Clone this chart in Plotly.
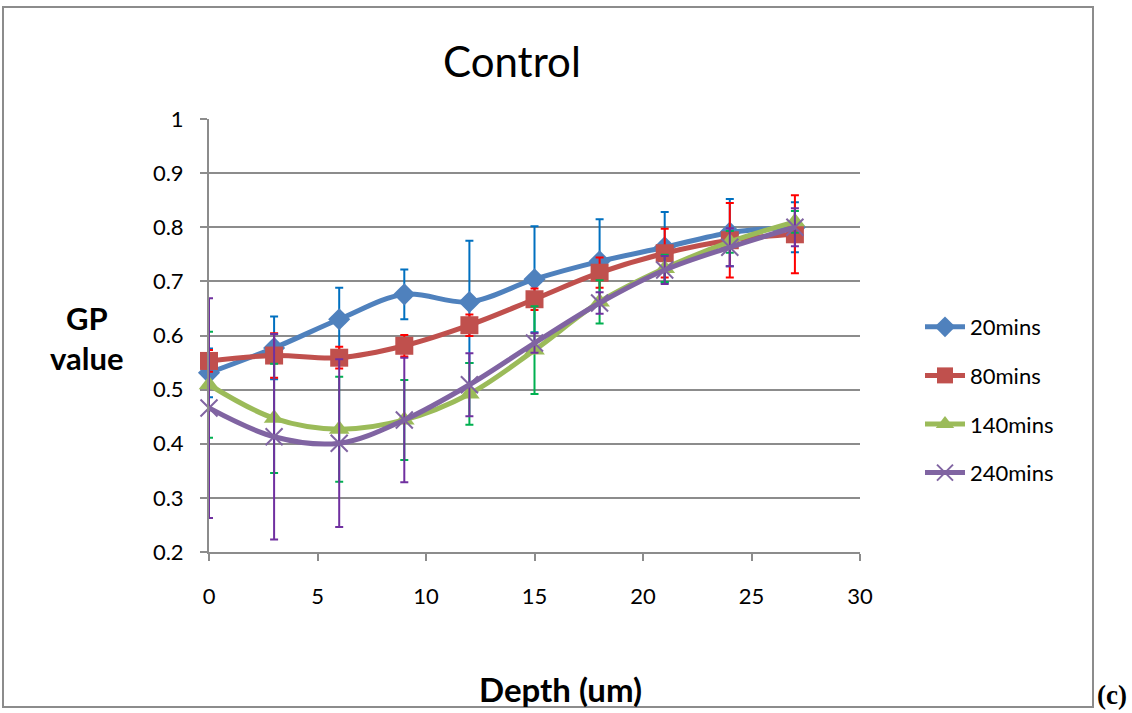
import plotly.graph_objects as go

# Depth positions (um)
depth = [0, 3, 6, 9, 12, 15, 18, 21, 24, 27]

# GP values and error magnitudes per incubation time
gp_20 = [0.531, 0.577, 0.630, 0.676, 0.662, 0.704, 0.737, 0.763, 0.790, 0.800]
err_20 = [0.045, 0.058, 0.058, 0.046, 0.113, 0.098, 0.078, 0.065, 0.062, 0.046]

gp_80 = [0.553, 0.563, 0.559, 0.581, 0.619, 0.667, 0.716, 0.752, 0.776, 0.787]
err_80 = [0.020, 0.041, 0.020, 0.020, 0.020, 0.020, 0.028, 0.045, 0.069, 0.072]

gp_140 = [0.509, 0.447, 0.427, 0.444, 0.492, 0.573, 0.662, 0.724, 0.773, 0.810]
err_140 = [0.098, 0.101, 0.097, 0.074, 0.057, 0.081, 0.040, 0.025, 0.020, 0.020]

gp_240 = [0.466, 0.413, 0.401, 0.444, 0.509, 0.586, 0.660, 0.721, 0.763, 0.800]
err_240 = [0.203, 0.190, 0.155, 0.115, 0.058, 0.018, 0.020, 0.026, 0.035, 0.035]

series_names = ["20mins", "80mins", "140mins", "240mins"]
x_ticks = [0, 5, 10, 15, 20, 25, 30]
y_ticks = [0.2, 0.3, 0.4, 0.5, 0.6, 0.7, 0.8, 0.9, 1]
y_tick_text = ["0.2", "0.3", "0.4", "0.5", "0.6", "0.7", "0.8", "0.9", "1"]

styles = [
    dict(line="#4F81BD", err="#0070C0", symbol="diamond", size=17),
    dict(line="#C0504D", err="#FF0000", symbol="square", size=18),
    dict(line="#9BBB59", err="#00B050", symbol="triangle-up", size=18),
    dict(line="#8064A2", err="#7030A0", symbol="x-thin", size=17),
]

fig = go.Figure()
for i, (name, ys, es, st) in enumerate(zip(series_names,
                                           [gp_20, gp_80, gp_140, gp_240],
                                           [err_20, err_80, err_140, err_240],
                                           styles)):
    marker = dict(symbol=st["symbol"], size=st["size"], color=st["line"])
    if st["symbol"] == "x-thin":
        marker["line"] = dict(color=st["line"], width=2)
    fig.add_trace(go.Scatter(
        x=depth, y=ys, name=name, mode="lines+markers",
        line=dict(color=st["line"], width=5, shape="spline", smoothing=1),
        marker=marker,
        error_y=dict(type="data", array=es, visible=True,
                     color=st["err"], thickness=2, width=4),
        legendgroup=f"g{i}",
        cliponaxis=False,
    ))

grid_col = "#8C8C8C"
font_family = "Lato, 'Open Sans', sans-serif"


def px_x(px):
    """Horizontal pixel position -> paper fraction of the plot area."""
    return (px - 209) / 651


def px_y(py):
    """Vertical pixel position -> paper fraction of the plot area."""
    return (552 - py) / 433


fig.update_layout(
    width=1132, height=713,
    margin=dict(l=209, r=272, t=119, b=161),
    paper_bgcolor="white", plot_bgcolor="white",
    font=dict(family=font_family, color="black"),
    showlegend=True,
    legend=dict(
        x=px_x(920), y=px_y(400), xanchor="left", yanchor="middle",
        font=dict(size=22, family=font_family),
        traceorder="grouped", tracegroupgap=17,
        itemwidth=40,
        bgcolor="rgba(0,0,0,0)",
    ),
    xaxis=dict(
        range=[0, 30], tickvals=x_ticks, ticktext=[str(v) for v in x_ticks],
        showgrid=False, zeroline=False,
        showline=True, linecolor=grid_col, linewidth=2,
        ticks="outside", ticklen=7, tickcolor=grid_col, tickwidth=2,
        tickfont=dict(size=22), ticklabelstandoff=17,
    ),
    yaxis=dict(
        range=[0.2, 1], tickvals=y_ticks, ticktext=y_tick_text,
        showgrid=True, gridcolor=grid_col, gridwidth=2, zeroline=False,
        showline=True, linecolor=grid_col, linewidth=2,
        ticks="outside", ticklen=7, tickcolor=grid_col, tickwidth=2,
        tickfont=dict(size=22), ticklabelstandoff=12,
    ),
)

# Outer frame of the chart
fig.add_shape(type="rect", xref="paper", yref="paper",
              x0=px_x(3), x1=px_x(1093), y0=px_y(707), y1=px_y(7),
              line=dict(color="#8C8C8C", width=2), layer="below")

fig.add_annotation(text="Control", xref="paper", yref="paper",
                   x=px_x(512), y=px_y(61),
                   showarrow=False, font=dict(size=42, family=font_family),
                   xanchor="center", yanchor="middle")
fig.add_annotation(text="<b>GP<br>value</b>", xref="paper", yref="paper",
                   x=px_x(86), y=px_y(338),
                   showarrow=False, font=dict(size=31, family=font_family),
                   xanchor="center", yanchor="middle", align="center")
fig.add_annotation(text="<b>Depth (um)</b>", xref="paper", yref="paper",
                   x=px_x(560), y=px_y(689),
                   showarrow=False, font=dict(size=33, family=font_family),
                   xanchor="center", yanchor="middle")
fig.add_annotation(text="<b>(c)</b>", xref="paper", yref="paper",
                   x=px_x(1112), y=px_y(695),
                   showarrow=False,
                   font=dict(size=27, family="'Liberation Serif', serif"),
                   xanchor="center", yanchor="middle")

fig.write_html("out.html")
